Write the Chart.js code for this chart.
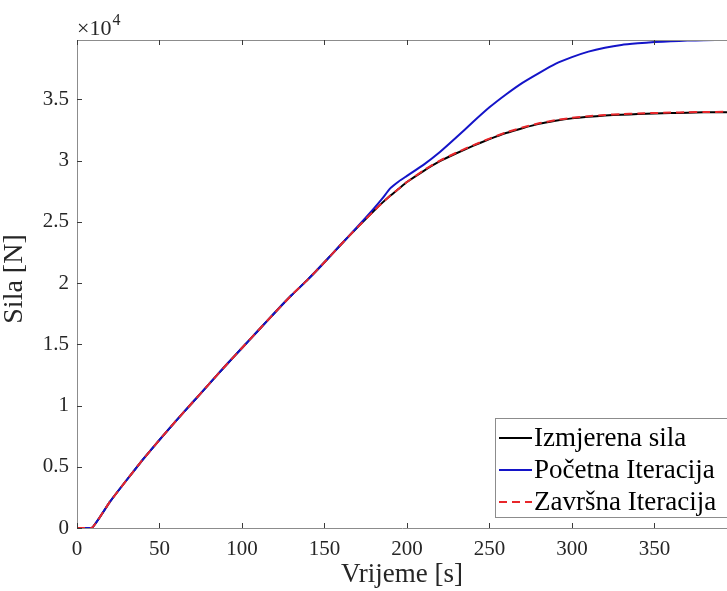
<!DOCTYPE html>
<html>
<head>
<meta charset="utf-8">
<script src="https://cdn.jsdelivr.net/npm/chart.js@4/dist/chart.umd.min.js"></script>
<style>
  html, body { margin: 0; padding: 0; background: #fff; overflow: hidden; }
  #wrap { position: relative; width: 727px; height: 591px; }
</style>
</head>
<body>
<div id="wrap"><canvas id="myChart" width="727" height="591"></canvas></div>
<script>
// vrijeme [s]
const vrijeme = [0, 9, 20, 30, 40, 50, 60, 70, 80, 90, 100, 110, 120, 130, 140, 150, 160, 170, 180, 185, 190,
  195, 200, 210, 220, 230, 240, 250, 260, 270, 280, 290, 300, 310, 320, 330, 340, 350, 360, 370, 380, 394];

const izmjerena = [0, 0, 2150, 3900, 5600, 7200, 8750, 10250, 11750, 13250, 14700, 16150, 17600, 19000, 20300,
  21700, 23150, 24550, 25900, 26550, 27150, 27700, 28250, 29150, 29950, 30600, 31200, 31750, 32250, 32650,
  33000, 33250, 33450, 33580, 33680, 33750, 33800, 33850, 33880, 33910, 33940, 33960];

const pocetna = [0, 0, 2150, 3900, 5600, 7200, 8750, 10250, 11750, 13250, 14700, 16150, 17600, 19000, 20300,
  21700, 23150, 24600, 26100, 26900, 27750, 28300, 28750, 29650, 30700, 31900, 33150, 34350, 35400, 36350,
  37150, 37900, 38450, 38900, 39220, 39450, 39580, 39680, 39750, 39800, 39830, 39850];

const zavrsna = [0, 0, 2150, 3900, 5600, 7200, 8750, 10250, 11750, 13250, 14700, 16150, 17600, 19000, 20300,
  21700, 23150, 24550, 25900, 26550, 27150, 27700, 28250, 29200, 30000, 30650, 31250, 31800, 32300, 32700,
  33050, 33300, 33500, 33630, 33730, 33800, 33850, 33890, 33920, 33950, 33970, 33990];

const xTicks = [0, 50, 100, 150, 200, 250, 300, 350];
const yTicks = [0, 5000, 10000, 15000, 20000, 25000, 30000, 35000];
const nazivi = ["Izmjerena sila", "Početna Iteracija", "Završna Iteracija"];
const boje = ["#000000", "#1414c8", "#e8262a"];

const FONT = "'Liberation Serif', 'Times New Roman', serif";

function toXY(ys) {
  return vrijeme.map((t, i) => ({ x: t, y: ys[i] }));
}

// ticks inside the box, top border, x10^4, y title and legend
const okvir = {
  id: "okvir",
  afterDraw(chart) {
    const c = chart.ctx;
    const a = chart.chartArea;
    const sx = chart.scales.x, sy = chart.scales.y;
    c.save();
    c.strokeStyle = "#8c8c8c";
    c.lineWidth = 1;
    c.beginPath();
    c.moveTo(a.left, a.top + 0.5);
    c.lineTo(a.right, a.top + 0.5);
    c.stroke();

    c.strokeStyle = "#3a3a3a";
    c.beginPath();
    xTicks.forEach(v => {
      const px = Math.round(sx.getPixelForValue(v)) + 0.5;
      c.moveTo(px, a.bottom); c.lineTo(px, a.bottom - 5);
      c.moveTo(px, a.top); c.lineTo(px, a.top + 5);
    });
    yTicks.forEach(v => {
      const py = Math.round(sy.getPixelForValue(v)) + 0.5;
      c.moveTo(a.left, py); c.lineTo(a.left + 5, py);
    });
    c.stroke();

    // x10^4
    c.fillStyle = "#262626";
    c.textBaseline = "alphabetic";
    c.textAlign = "left";
    c.font = "22px " + FONT;
    c.fillText("\u00d710", a.left, a.top - 5);
    const w = c.measureText("\u00d710").width;
    c.font = "16px " + FONT;
    c.fillText("4", a.left + w + 1, a.top - 15);

    // y title
    c.save();
    c.translate(22, 279);
    c.rotate(-Math.PI / 2);
    c.textAlign = "center";
    c.textBaseline = "alphabetic";
    c.font = "28px " + FONT;
    c.fillText("Sila [N]", 0, 0);
    c.restore();

    // legenda
    const lx = 495, ly = 418, lw = 240, lh = 99;
    c.fillStyle = "#fff";
    c.fillRect(lx, ly, lw, lh);
    c.strokeStyle = "#8c8c8c";
    c.strokeRect(lx + 0.5, ly + 0.5, lw, lh);
    chart.data.datasets.forEach((ds, i) => {
      const yy = ly + 20 + i * 32;
      c.strokeStyle = ds.borderColor;
      c.lineWidth = 2;
      c.setLineDash(ds.borderDash || []);
      c.beginPath();
      c.moveTo(lx + 4, yy); c.lineTo(lx + 37, yy);
      c.stroke();
      c.setLineDash([]);
      c.fillStyle = "#000";
      c.font = "27px " + FONT;
      c.textBaseline = "middle";
      c.fillText(ds.label, lx + 39, yy + 1);
    });
    c.restore();
  }
};

const ctx = document.getElementById("myChart");

const graf = new Chart(ctx, {
  type: "line",
  data: {
    datasets: [
      { label: nazivi[0], data: toXY(izmjerena), borderColor: boje[0], borderWidth: 2, order: 3 },
      { label: nazivi[1], data: toXY(pocetna), borderColor: boje[1], borderWidth: 2, order: 2 },
      { label: nazivi[2], data: toXY(zavrsna), borderColor: boje[2], borderWidth: 2, borderDash: [8, 5], order: 1 }
    ]
  },
  options: {
    responsive: false,
    animation: false,
    devicePixelRatio: 1,
    layout: { padding: { top: 40, right: 0, left: 0, bottom: 0 } },
    elements: {
      point: { radius: 0 },
      line: { tension: 0.15, fill: false }
    },
    plugins: {
      legend: { display: false },
      tooltip: { enabled: false }
    },
    scales: {
      x: {
        type: "linear",
        min: 0,
        max: 394,
        afterFit(s) { s.height = 63; },
        afterBuildTicks(s) { s.ticks = xTicks.map(v => ({ value: v })); },
        grid: { display: false, drawTicks: false },
        border: { display: true, color: "#8c8c8c", width: 1 },
        ticks: { autoSkip: false, maxRotation: 0, color: "#262626", font: { family: FONT, size: 21 }, padding: 9 },
        title: { display: true, text: "Vrijeme [s]", color: "#262626", font: { family: FONT, size: 27 }, padding: { top: -3, bottom: 0 } }
      },
      y: {
        min: 0,
        max: 39850,
        afterFit(s) { s.width = 77; },
        afterBuildTicks(s) { s.ticks = yTicks.map(v => ({ value: v })); },
        grid: { display: false, drawTicks: false },
        border: { display: true, color: "#8c8c8c", width: 1 },
        ticks: {
          autoSkip: false,
          color: "#262626",
          font: { family: FONT, size: 21 },
          padding: 8,
          callback: v => String(v / 10000)
        },
        title: { display: false, text: "Sila [N]" }
      }
    }
  },
  plugins: [okvir]
});
</script>
</body>
</html>
